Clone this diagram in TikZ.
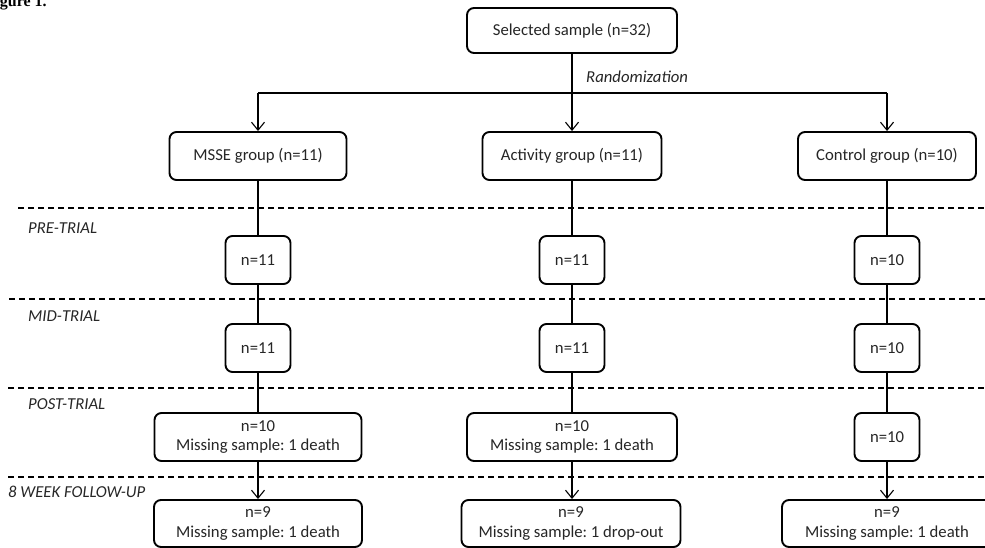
\documentclass[tikz,border=0pt]{standalone}
\usepackage{fontspec}
\setmainfont{Carlito}
\newfontfamily\figfont{Liberation Serif}
\usetikzlibrary{arrows.meta}
\newcommand\boxfont{\frenchspacing\fontsize{16.7}{19.5}\selectfont}
\begin{document}
\begin{tikzpicture}[x=1pt,y=-1pt,
  box/.style={draw, line width=1.9pt, rounded corners=7pt, inner sep=0pt, align=center, font=\boxfont, text=black!85},
  conn/.style={line width=1.1pt},
  arr/.style={conn, -{Straight Barb[length=8pt,width=13pt,line width=1.1pt]}},
  divider/.style={line width=1.1pt, dash pattern=on 6pt off 4pt},
  phase/.style={anchor=west, inner sep=0pt, font=\boxfont\itshape, text=black!85}]
\useasboundingbox (0,0) rectangle (985,548);
\fill[white] (0,0) rectangle (985,548);

% caption (clipped at the page edge, as in the reference)
\node[anchor=base west, inner sep=0pt, font=\figfont\bfseries\fontsize{16}{16}\selectfont] (fig) at (-14.5,7) {Figure 1.};

% dashed dividers
\coordinate (d1l) at (18,208);  \coordinate (d1r) at (985,208);
\coordinate (d2l) at (9,299);   \coordinate (d2r) at (985,299);
\coordinate (d3l) at (8,388);   \coordinate (d3r) at (985,388);
\coordinate (d4l) at (8,477);   \coordinate (d4r) at (985,477);
\draw[divider] (d1l) -- (d1r);
\draw[divider] (d2l) -- (d2r);
\draw[divider] (d3l) -- (d3r);
\draw[divider] (d4l) -- (d4r);

% phase labels
\node[phase] (lpre)  at (28,228) {PRE-TRIAL};
\node[phase] (lmid)  at (28,316) {MID-TRIAL};
\node[phase] (lpost) at (28,404) {POST-TRIAL};
\node[phase] (lfu)   at (8,492)  {8 WEEK FOLLOW-UP};

% top
\node[box, minimum width=210pt, minimum height=45pt] (top) at (572,30.5) {Selected sample (n=32)};
\node[anchor=west, inner sep=0pt, font=\boxfont\itshape, text=black!85] (rand) at (586,77) {Randomization};

% groups
\node[box, minimum width=177pt, minimum height=48pt] (g1) at (258,156) {MSSE group (n=11)};
\node[box, minimum width=179pt, minimum height=48pt] (g2) at (572,156) {Activity group (n=11)};
\node[box, minimum width=178pt, minimum height=48pt] (g3) at (887,156) {Control group (n=10)};

% pre-trial
\node[box, minimum width=65pt, minimum height=48pt] (p1) at (258,260) {n=11};
\node[box, minimum width=65pt, minimum height=48pt] (p2) at (572,260) {n=11};
\node[box, minimum width=65pt, minimum height=48pt] (p3) at (887,260) {n=10};

% mid-trial
\node[box, minimum width=65pt, minimum height=48pt] (m1) at (258,348) {n=11};
\node[box, minimum width=65pt, minimum height=48pt] (m2) at (572,348) {n=11};
\node[box, minimum width=65pt, minimum height=48pt] (m3) at (887,348) {n=10};

% post-trial
\node[box, minimum width=207pt, minimum height=48pt] (q1) at (258,437) {n=10\\Missing sample: 1 death};
\node[box, minimum width=210pt, minimum height=48pt] (q2) at (572,437) {n=10\\Missing sample: 1 death};
\node[box, minimum width=65pt, minimum height=48pt] (q3) at (887,437) {n=10};

% follow-up
\node[box, minimum width=208pt, minimum height=47pt] (f1) at (258,523.5) {n=9\\Missing sample: 1 death};
\node[box, minimum width=219pt, minimum height=47pt] (f2) at (571,523.5) {n=9\\Missing sample: 1 drop-out};
\node[box, minimum width=210pt, minimum height=47pt] (f3) at (887,523.5) {n=9\\Missing sample: 1 death};

% connectors
\coordinate (b1) at (258,93);
\coordinate (b3) at (887,93);
\draw[conn] (b1) -- (b3);
\draw[arr] (top) -- (g2);
\draw[arr] (b1) -- (g1);
\draw[arr] (b3) -- (g3);

\draw[conn] (g1) -- (p1);
\draw[conn] (p1) -- (m1);
\draw[conn] (m1) -- (q1);
\draw[arr]  (q1) -- (f1);

\draw[conn] (g2) -- (p2);
\draw[conn] (p2) -- (m2);
\draw[conn] (m2) -- (q2);
\draw[arr]  (q2.south) -- (f2.north -| q2.south);

\draw[conn] (g3) -- (p3);
\draw[conn] (p3) -- (m3);
\draw[conn] (m3) -- (q3);
\draw[arr]  (q3) -- (f3);
\end{tikzpicture}
\end{document}
